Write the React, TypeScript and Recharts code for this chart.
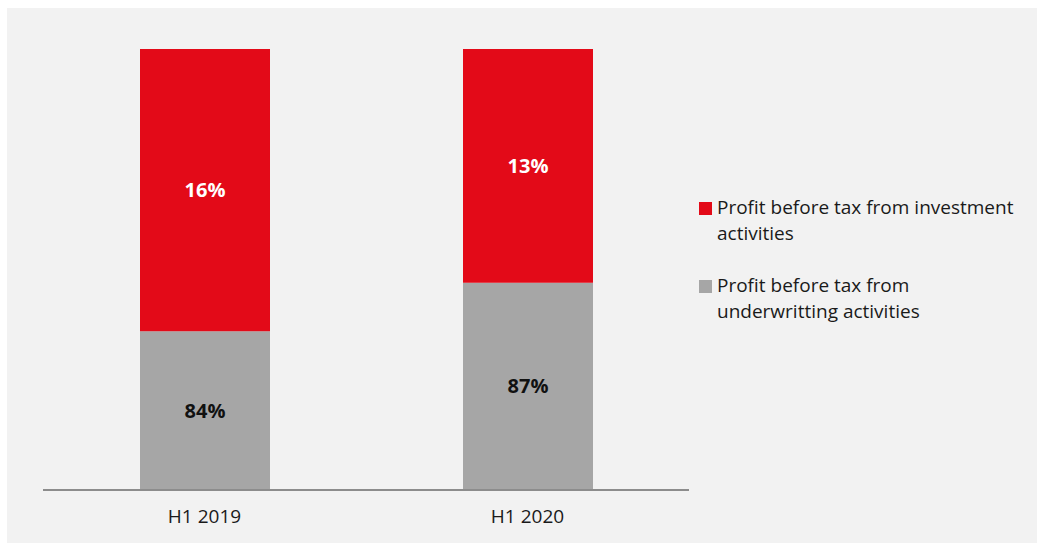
import { BarChart, Bar, XAxis, YAxis, LabelList } from 'recharts';

const periods = ['H1 2019', 'H1 2020'];
const underwritingHeight = [36, 47];
const investmentHeight = [64, 53];
const underwritingLabels = ['84%', '87%'];
const investmentLabels = ['16%', '13%'];

const series = [
  { key: 'investment', name: 'Profit before tax from investment activities', color: '#e30a18' },
  { key: 'underwriting', name: 'Profit before tax from underwritting activities', color: '#a6a6a6' },
];

const data = periods.map((p, i) => ({
  period: p,
  underwriting: underwritingHeight[i],
  investment: investmentHeight[i],
  uLabel: underwritingLabels[i],
  iLabel: investmentLabels[i],
}));

const FONT = '"Open Sans", "Noto Sans", sans-serif';

const LegendBox = () => (
  <div
    style={{
      position: 'absolute',
      left: 692,
      top: 186,
      fontFamily: FONT,
      fontSize: 19,
      color: '#1a1a1a',
      lineHeight: '26px',
    }}
  >
    {series.map((s) => (
      <div key={s.key} style={{ display: 'flex', alignItems: 'flex-start', marginBottom: 26 }}>
        <span
          style={{
            width: 13,
            height: 13,
            background: s.color,
            display: 'inline-block',
            marginTop: 8,
            marginRight: 5,
            flexShrink: 0,
          }}
        />
        <span style={{ width: 310 }}>{s.name}</span>
      </div>
    ))}
  </div>
);

export default function App() {
  return (
    <div
      style={{
        position: 'absolute',
        left: 7,
        top: 8,
        width: 1030,
        height: 535,
        background: '#f2f2f2',
      }}
    >
      <BarChart
        width={1030}
        height={535}
        data={data}
        margin={{ top: 41, right: 348, bottom: 23, left: 36 }}
        barCategoryGap={0}
      >
        <XAxis
          dataKey="period"
          axisLine={{ stroke: '#8c8c8c', strokeWidth: 2 }}
          tickLine={false}
          tickMargin={14}
          height={30}
          tick={{ fontSize: 19, fill: '#1a1a1a', fontFamily: FONT }}
        />
        <YAxis hide domain={[0, 100]} />
        <Bar dataKey="underwriting" stackId="a" fill="#a6a6a6" barSize={130} isAnimationActive={false}>
          <LabelList
            dataKey="uLabel"
            position="center"
            style={{ fontSize: 20, fontWeight: 700, fill: '#111', fontFamily: FONT }}
          />
        </Bar>
        <Bar dataKey="investment" stackId="a" fill="#e30a18" barSize={130} isAnimationActive={false}>
          <LabelList
            dataKey="iLabel"
            position="center"
            style={{ fontSize: 20, fontWeight: 700, fill: '#ffffff', fontFamily: FONT }}
          />
        </Bar>
      </BarChart>
      <LegendBox />
    </div>
  );
}
